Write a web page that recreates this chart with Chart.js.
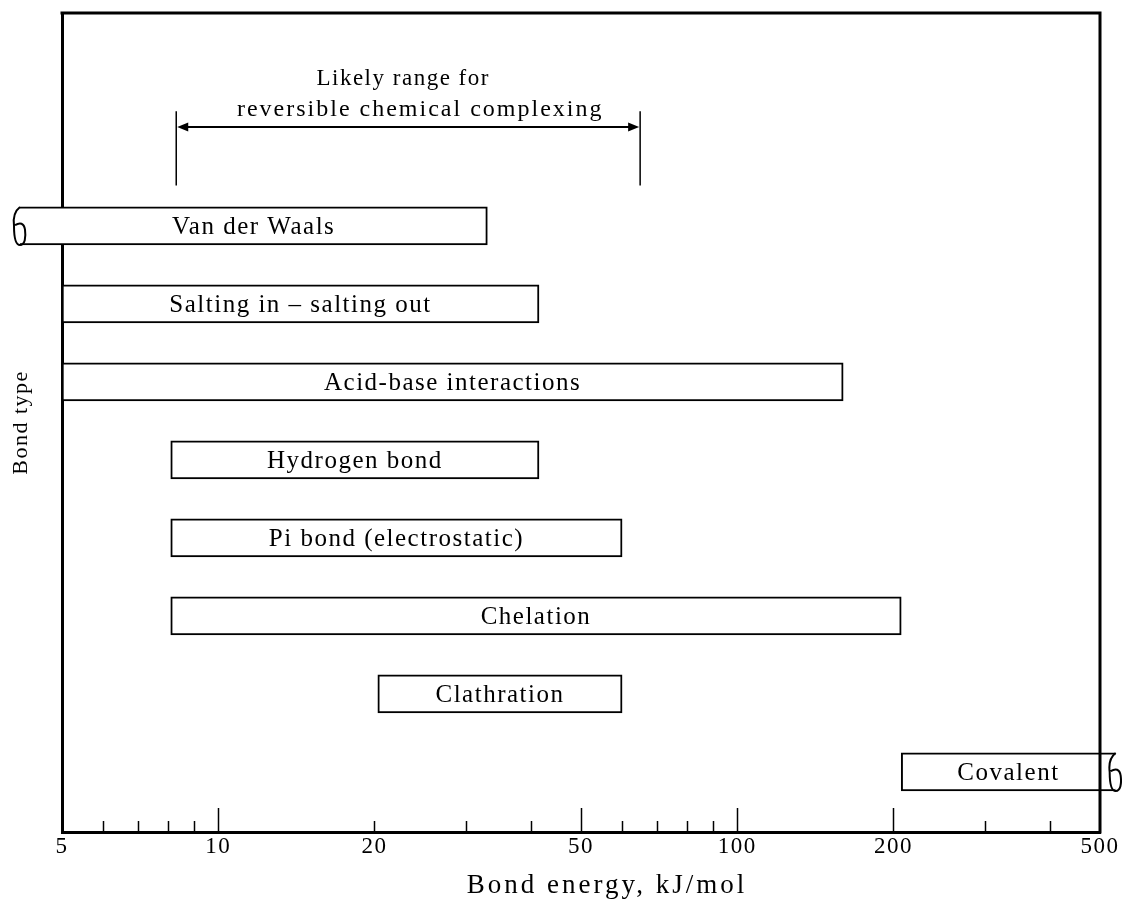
<!DOCTYPE html>
<html>
<head>
<meta charset="utf-8">
<script src="https://cdn.jsdelivr.net/npm/chart.js@4/dist/chart.umd.min.js"></script>
<style>
  html, body { margin: 0; padding: 0; background: #fff; }
  #wrap { width: 1122px; height: 901px; }
</style>
</head>
<body>
<div id="wrap"><canvas id="c" width="1122" height="901"></canvas></div>
<script>
// ---- data ----
const categories = [
  'Van der Waals',
  'Salting in \u2013 salting out',
  'Acid-base interactions',
  'Hydrogen bond',
  'Pi bond (electrostatic)',
  'Chelation',
  'Clathration',
  'Covalent'
];
const lowValues  = [4.15, 5, 5, 8.1, 8.1, 8.1, 20.3, 207];
const highValues = [33, 41.5, 160, 41.5, 60, 207, 60, 536];
const brokenEnds = ['left', null, null, null, null, null, null, 'right'];
const tickValues = [5, 10, 20, 50, 100, 200, 500];
const majorTickValues = [10, 50, 100, 200];
const minorTickValues = [6, 7, 8, 9, 20, 30, 40, 60, 70, 80, 90, 300, 400];
const rangeBounds = [8.3, 65];
const rangeLabel = ['Likely range for', 'reversible chemical complexing'];
const xTitle = 'Bond energy, kJ/mol';

// ---- style ----
const FONT = '"Liberation Serif", "Times New Roman", serif';
const SPACING = '1.5px';

function drawBreak(ctx, x, top, bottom) {
  const h = bottom - top;
  ctx.beginPath();
  ctx.moveTo(x, top);
  ctx.bezierCurveTo(x - 5, top + 0.1 * h, x - 7, top + 0.3 * h, x - 6, top + 0.5 * h);
  ctx.bezierCurveTo(x - 6, top + 0.8 * h, x - 4, bottom, x, bottom);
  ctx.bezierCurveTo(x + 5, bottom, x + 6, top + 0.8 * h, x + 5, top + 0.6 * h);
  ctx.bezierCurveTo(x + 4, top + 0.42 * h, x, top + 0.4 * h, x - 5, top + 0.48 * h);
  ctx.stroke();
}

const decorPlugin = {
  id: 'decor',
  beforeDraw(chart) { chart.ctx.letterSpacing = SPACING; },
  afterDatasetsDraw(chart) {
    const ctx = chart.ctx;
    const {left, right, top, bottom} = chart.chartArea;
    const xs = chart.scales.x, ys = chart.scales.y;
    ctx.save();
    ctx.letterSpacing = SPACING;
    ctx.strokeStyle = '#000';
    ctx.fillStyle = '#000';

    // frame: top and right
    ctx.lineWidth = 3;
    ctx.beginPath();
    ctx.moveTo(left - 1.5, top);
    ctx.lineTo(right, top);
    ctx.lineTo(right, bottom + 1.5);
    ctx.stroke();

    // inward ticks
    ctx.lineWidth = 1.5;
    const tick = (v, len) => {
      const px = Math.round(xs.getPixelForValue(v)) + 0.5;
      ctx.beginPath();
      ctx.moveTo(px, bottom);
      ctx.lineTo(px, bottom - len);
      ctx.stroke();
    };
    majorTickValues.forEach(v => tick(v, 24));
    minorTickValues.forEach(v => tick(v, 11));

    // bars: labels and broken ends
    const meta = chart.getDatasetMeta(0);
    meta.data.forEach((bar, i) => {
      const p = bar.getProps(['x', 'y', 'base', 'height'], true);
      const x0 = Math.min(p.x, p.base), x1 = Math.max(p.x, p.base);
      const t = p.y - p.height / 2, b = p.y + p.height / 2;
      ctx.lineWidth = 2;
      if (brokenEnds[i] === 'left') drawBreak(ctx, x0, t, b);
      if (brokenEnds[i] === 'right') drawBreak(ctx, x1, t, b);
      ctx.font = '25px ' + FONT;
      ctx.textAlign = 'center';
      ctx.textBaseline = 'middle';
      ctx.fillText(categories[i], (x0 + x1) / 2, p.y + 1);
    });

    // likely range annotation
    const ra = xs.getPixelForValue(rangeBounds[0]);
    const rb = xs.getPixelForValue(rangeBounds[1]);
    const vTop = ys.getPixelForValue(-1.47), vBot = ys.getPixelForValue(-0.52);
    const ay = ys.getPixelForValue(-1.27);
    ctx.lineWidth = 1.5;
    ctx.beginPath();
    ctx.moveTo(ra, vTop); ctx.lineTo(ra, vBot);
    ctx.moveTo(rb, vTop); ctx.lineTo(rb, vBot);
    ctx.stroke();
    ctx.lineWidth = 2;
    ctx.beginPath();
    ctx.moveTo(ra + 8, ay); ctx.lineTo(rb - 8, ay);
    ctx.stroke();
    ctx.beginPath();
    ctx.moveTo(ra + 1, ay); ctx.lineTo(ra + 12, ay - 4.5); ctx.lineTo(ra + 12, ay + 4.5); ctx.closePath();
    ctx.moveTo(rb - 1, ay); ctx.lineTo(rb - 12, ay - 4.5); ctx.lineTo(rb - 12, ay + 4.5); ctx.closePath();
    ctx.fill();
    ctx.textAlign = 'center';
    ctx.textBaseline = 'middle';
    const mid = (ra + rb) / 2;
    ctx.font = '23px ' + FONT;
    ctx.fillText(rangeLabel[0], mid - 5, ys.getPixelForValue(-1.88));
    ctx.letterSpacing = '2px';
    ctx.font = '24px ' + FONT;
    ctx.fillText(rangeLabel[1], mid + 12, ys.getPixelForValue(-1.49));
    ctx.restore();
  },
  afterDraw(chart) {
    // x-axis title (set slightly right of the axis centre, as in the original)
    const ctx = chart.ctx;
    const xs = chart.scales.x;
    ctx.save();
    ctx.letterSpacing = '3px';
    ctx.fillStyle = '#000';
    ctx.font = '27px ' + FONT;
    ctx.textAlign = 'center';
    ctx.textBaseline = 'alphabetic';
    ctx.fillText(xTitle, (xs.left + xs.right) / 2 + 26, xs.bottom - 8);
    ctx.restore();
  }
};

new Chart(document.getElementById('c'), {
  type: 'bar',
  data: {
    datasets: [{
      data: categories.map((c, i) => ({ x: [lowValues[i], highValues[i]], y: i })),
      backgroundColor: '#fff',
      borderColor: '#000',
      borderWidth: 2,
      borderSkipped: c => brokenEnds[c.dataIndex] || false,
      barThickness: 38,
      clip: false
    }]
  },
  options: {
    indexAxis: 'y',
    responsive: false,
    animation: false,
    events: [],
    layout: { padding: { top: 13, right: 22, left: 0, bottom: 0 } },
    plugins: { legend: { display: false }, tooltip: { enabled: false } },
    scales: {
      x: {
        type: 'logarithmic',
        min: 5, max: 500,
        afterBuildTicks: s => { s.ticks = tickValues.map(v => ({ value: v, major: false })); },
        afterFit: s => { s.height = 69; },
        ticks: {
          autoSkip: false, maxRotation: 0, padding: 1, color: '#000',
          font: { family: FONT, size: 23 },
          callback: v => String(v)
        },
        grid: { display: false, drawTicks: false },
        border: { display: true, color: '#000', width: 3 },
        title: { display: false, text: xTitle }
      },
      y: {
        type: 'linear',
        reverse: true,
        offset: false,
        min: -2.73, max: 7.77,
        afterFit: s => { s.width = 62; },
        ticks: { display: false },
        grid: { display: false, drawTicks: false, offset: false },
        border: { display: true, color: '#000', width: 3 },
        title: {
          display: true, text: 'Bond type', color: '#000',
          font: { family: FONT, size: 22 }, padding: { top: 8, bottom: 0 }
        }
      }
    }
  },
  plugins: [decorPlugin]
});
</script>
</body>
</html>
